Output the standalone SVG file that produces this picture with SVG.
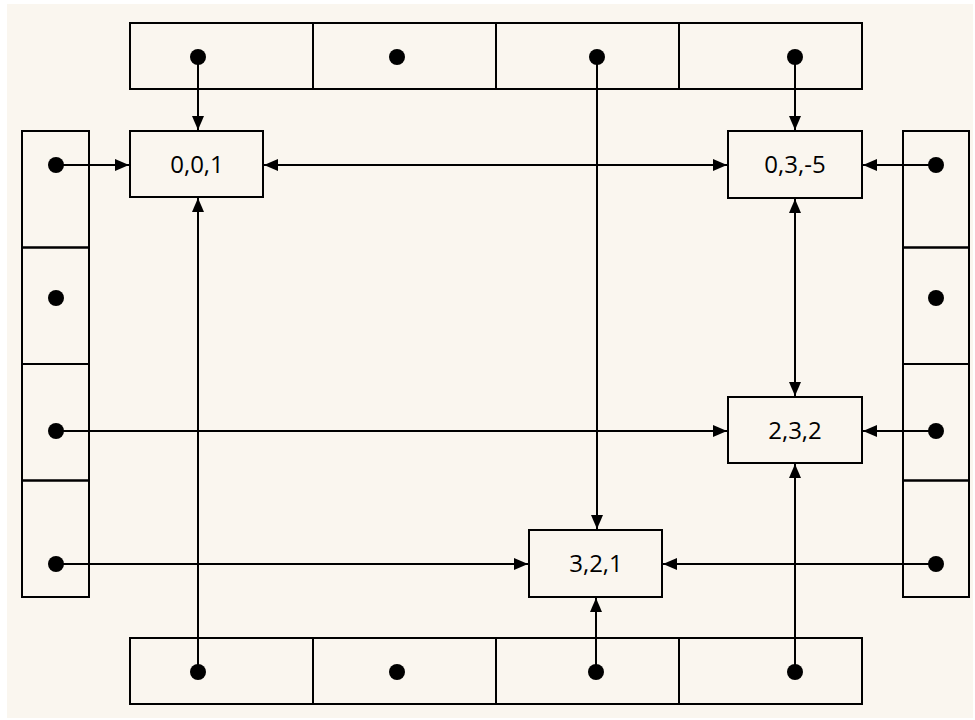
<svg xmlns="http://www.w3.org/2000/svg" width="975" height="720" viewBox="0 0 975 720">
<defs>
<style>
.cell{fill:none;stroke:#000;stroke-width:2}
.node rect{fill:#FAF6EF;stroke:#000;stroke-width:2}
.node text{font-family:"Open Sans","Liberation Sans",sans-serif;font-size:24px;fill:#000;text-anchor:middle}
.dot{fill:#000}
.conn{stroke:#000;stroke-width:2;fill:none}
</style>
<marker id="ah" viewBox="0 0 14 12" refX="14" refY="6" markerWidth="14" markerHeight="12" markerUnits="userSpaceOnUse" orient="auto-start-reverse">
<path d="M0,0 L14,6 L0,12 Z" fill="#000"/>
</marker>
</defs>
<rect x="0" y="0" width="975" height="720" fill="#fff"/>
<rect x="7" y="4" width="966" height="714" fill="#FAF6EF"/>

<g id="top-strip">
<rect class="cell" x="130" y="23" width="183" height="66"/>
<rect class="cell" x="313" y="23" width="183" height="66"/>
<rect class="cell" x="496" y="23" width="183" height="66"/>
<rect class="cell" x="679" y="23" width="183" height="66"/>
<circle class="dot" cx="198" cy="57" r="8"/>
<circle class="dot" cx="397" cy="57" r="8"/>
<circle class="dot" cx="597" cy="57" r="8"/>
<circle class="dot" cx="795" cy="57" r="8"/>
</g>
<g id="bottom-strip">
<rect class="cell" x="130" y="638" width="183" height="66"/>
<rect class="cell" x="313" y="638" width="183" height="66"/>
<rect class="cell" x="496" y="638" width="183" height="66"/>
<rect class="cell" x="679" y="638" width="183" height="66"/>
<circle class="dot" cx="198" cy="672" r="8"/>
<circle class="dot" cx="397" cy="672" r="8"/>
<circle class="dot" cx="596" cy="672" r="8"/>
<circle class="dot" cx="795" cy="672" r="8"/>
</g>
<g id="left-strip">
<rect class="cell" x="22" y="131" width="67" height="116.5"/>
<rect class="cell" x="22" y="247.5" width="67" height="116.5"/>
<rect class="cell" x="22" y="364" width="67" height="116.5"/>
<rect class="cell" x="22" y="480.5" width="67" height="116.5"/>
<circle class="dot" cx="56" cy="165" r="8"/>
<circle class="dot" cx="56" cy="298" r="8"/>
<circle class="dot" cx="56" cy="431" r="8"/>
<circle class="dot" cx="56" cy="564" r="8"/>
</g>
<g id="right-strip">
<rect class="cell" x="903" y="131" width="66" height="116.5"/>
<rect class="cell" x="903" y="247.5" width="66" height="116.5"/>
<rect class="cell" x="903" y="364" width="66" height="116.5"/>
<rect class="cell" x="903" y="480.5" width="66" height="116.5"/>
<circle class="dot" cx="936" cy="165" r="8"/>
<circle class="dot" cx="936" cy="298" r="8"/>
<circle class="dot" cx="936" cy="431" r="8"/>
<circle class="dot" cx="936" cy="564" r="8"/>
</g>

<g id="connectors">
<line class="conn" x1="198" y1="57" x2="198" y2="130" marker-end="url(#ah)"/>
<line class="conn" x1="597" y1="57" x2="597" y2="529" marker-end="url(#ah)"/>
<line class="conn" x1="795" y1="57" x2="795" y2="130" marker-end="url(#ah)"/>
<line class="conn" x1="56" y1="165" x2="129" y2="165" marker-end="url(#ah)"/>
<line class="conn" x1="56" y1="431" x2="727" y2="431" marker-end="url(#ah)"/>
<line class="conn" x1="56" y1="564" x2="528" y2="564" marker-end="url(#ah)"/>
<line class="conn" x1="264" y1="165" x2="727" y2="165" marker-start="url(#ah)" marker-end="url(#ah)"/>
<line class="conn" x1="795" y1="199" x2="795" y2="396" marker-start="url(#ah)" marker-end="url(#ah)"/>
<line class="conn" x1="936" y1="165" x2="863" y2="165" marker-end="url(#ah)"/>
<line class="conn" x1="936" y1="431" x2="863" y2="431" marker-end="url(#ah)"/>
<line class="conn" x1="936" y1="564" x2="663" y2="564" marker-end="url(#ah)"/>
<line class="conn" x1="198" y1="672" x2="198" y2="198" marker-end="url(#ah)"/>
<line class="conn" x1="596" y1="672" x2="596" y2="598" marker-end="url(#ah)"/>
<line class="conn" x1="795" y1="672" x2="795" y2="464" marker-end="url(#ah)"/>
</g>

<g id="n001" class="node">
<rect x="130" y="131" width="133" height="66"/>
<text x="197" y="173">0,0,1</text>
</g>
<g id="n035" class="node">
<rect x="728" y="131" width="134" height="67"/>
<text x="795" y="173">0,3,-5</text>
</g>
<g id="n232" class="node">
<rect x="728" y="397" width="134" height="66"/>
<text x="795" y="439">2,3,2</text>
</g>
<g id="n321" class="node">
<rect x="529" y="530" width="133" height="67"/>
<text x="596" y="572">3,2,1</text>
</g>
</svg>
